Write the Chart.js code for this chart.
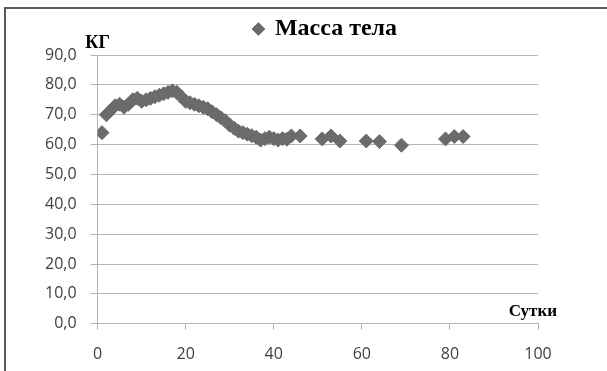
<!DOCTYPE html>
<html>
<head>
<meta charset="utf-8">
<script src="https://cdn.jsdelivr.net/npm/chart.js@4/dist/chart.umd.min.js"></script>
<style>
    html, body { margin: 0; padding: 0; background: #fff; }
    #wrap { position: relative; width: 607px; height: 371px; }
    #frame { position: absolute; left: 4px; top: 7px; right: 0; bottom: 0;
             border-left: 2px solid #5a5a5a; border-top: 2px solid #5a5a5a; pointer-events: none; }
</style>
</head>
<body>
<div id="wrap">
    <canvas id="chart" width="607" height="371"></canvas>
    <div id="frame"></div>
</div>
<script>
// day -> body mass (kg)
const days = [1, 2, 3, 4, 5, 6, 7, 8, 9, 10, 11, 12, 13, 14, 15, 16, 17, 18, 19, 20,
    21, 22, 23, 24, 25, 26, 27, 28, 29, 30, 31, 32, 33, 34, 35, 36, 37, 38, 39, 40,
    41, 42, 43, 44, 46, 51, 53, 55, 61, 64, 69, 79, 81, 83];
const mass = [64.0, 70.0, 71.5, 73.0, 73.5, 72.5, 73.5, 75.0, 75.5, 74.5, 75.0, 75.5, 76.0, 76.5, 77.0, 77.5, 78.0, 77.5, 76.0, 74.5,
    74.0, 73.5, 73.0, 72.5, 72.0, 71.0, 70.0, 69.0, 68.0, 66.5, 65.5, 64.5, 64.0, 63.5, 63.0, 62.5, 61.5, 62.0, 62.5, 62.0,
    61.5, 62.0, 61.8, 62.9, 62.9, 61.9, 62.9, 61.2, 61.2, 61.0, 59.8, 61.9, 62.7, 62.7];
const seriesName = 'Масса тела';
const yUnit = 'КГ';
const xTitle = 'Сутки';

const markerColor = '#6b6b6b';
const gridColor = '#b4b4b4';
const tickFont = { family: '"Open Sans", sans-serif', size: 16 };

const extraText = {
    id: 'extraText',
    afterLayout(chart) {
        // legend sits right of centre, closer to the top border
        const lg = chart.legend;
        lg.left += 41; lg.right += 41;
        lg.top -= 4; lg.bottom -= 4;
    },
    afterDraw(chart) {
        const { ctx, chartArea } = chart;
        ctx.save();
        ctx.fillStyle = '#000';
        ctx.font = 'bold 18px "Liberation Serif", serif';
        ctx.textAlign = 'center';
        ctx.textBaseline = 'alphabetic';
        ctx.fillText(yUnit, chartArea.left, chartArea.top - 7);
        ctx.font = 'bold 17px "Liberation Serif", serif';
        ctx.textAlign = 'right';
        ctx.fillText(xTitle, chartArea.right + 19, chartArea.bottom - 8);
        ctx.restore();
    }
};

const ctx = document.getElementById('chart').getContext('2d');
new Chart(ctx, {
    type: 'scatter',
    data: {
        datasets: [{
            label: seriesName,
            data: days.map((d, i) => ({ x: d, y: mass[i] })),
            backgroundColor: markerColor,
            borderColor: markerColor,
            borderWidth: 1,
            pointStyle: 'rectRot',
            pointRadius: 7,
            pointHoverRadius: 7
        }]
    },
    options: {
        responsive: false,
        animation: false,
        layout: { padding: { top: 11, left: 31, right: 69, bottom: -8 } },
        plugins: {
            legend: {
                position: 'top',
                labels: {
                    usePointStyle: true,
                    boxWidth: 9,
                    boxHeight: 9,
                    padding: 10,
                    color: '#000',
                    font: { family: '"Liberation Serif", serif', size: 24, weight: 'bold' }
                }
            },
            tooltip: { enabled: false }
        },
        scales: {
            x: {
                type: 'linear',
                min: 0,
                max: 100,
                ticks: { stepSize: 20, color: '#404040', font: tickFont, padding: 15 },
                grid: { drawOnChartArea: false, drawTicks: true, tickLength: 6, color: gridColor },
                border: { color: gridColor }
            },
            y: {
                min: 0,
                max: 90,
                ticks: {
                    stepSize: 10,
                    color: '#404040',
                    font: tickFont,
                    padding: 14,
                    callback: v => v.toFixed(1).replace('.', ',')
                },
                grid: { color: gridColor, tickLength: 7 },
                border: { color: gridColor }
            }
        }
    },
    plugins: [extraText]
});
</script>
</body>
</html>
